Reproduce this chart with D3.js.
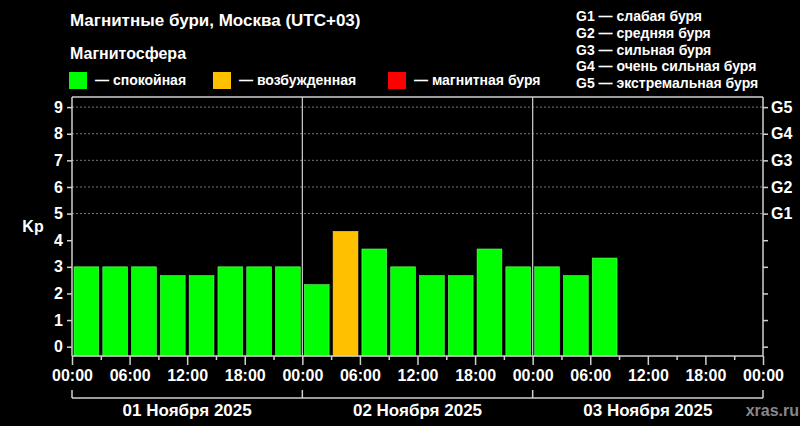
<!DOCTYPE html>
<html>
<head>
<meta charset="utf-8">
<script src="https://cdn.jsdelivr.net/npm/d3@7"></script>
<style>
  html, body { margin: 0; padding: 0; background: #000; }
  svg { display: block; font-family: "Liberation Sans", Arial, sans-serif; font-weight: bold; }
</style>
</head>
<body>
<svg id="chart" width="800" height="426"></svg>
<script>
// Kp index, 3-hour bins starting 01 Nov 00:00
const kpValues = [3, 3, 3, 2.67, 2.67, 3, 3, 3,
                  2.33, 4.33, 3.67, 3, 2.67, 2.67, 3.67, 3,
                  3, 2.67, 3.33];
const dayLabels = ["01 Ноября 2025", "02 Ноября 2025", "03 Ноября 2025"];
const kpTicks = [0, 1, 2, 3, 4, 5, 6, 7, 8, 9];
const stormTicks = ["G1", "G2", "G3", "G4", "G5"];
const stormNames = ["слабая буря", "средняя буря", "сильная буря", "очень сильная буря", "экстремальная буря"];
const stateNames = ["спокойная", "возбужденная", "магнитная буря"];
const stateColors = ["#00ff00", "#ffc000", "#ff0000"];

const svg = d3.select("#chart");
const margin = { top: 97, right: 37, bottom: 70, left: 72 };
const W = 800, H = 426;

const x = d3.scaleLinear().domain([0, 72]).range([margin.left, W - margin.right]);
const y = d3.scaleLinear().domain([-0.35, 9.38]).range([H - margin.bottom, margin.top]);
const bottom = H - margin.bottom;

function colorFor(v) {
  if (v >= 5) return stateColors[2];
  if (v >= 4) return stateColors[1];
  return stateColors[0];
}

// header
svg.append("text").attr("x", 70).attr("y", 26).attr("fill", "#fff")
  .attr("font-size", 17).text("Магнитные бури, Москва (UTC+03)");
svg.append("text").attr("x", 70).attr("y", 59).attr("fill", "#fff")
  .attr("font-size", 16).text("Магнитосфера");

const legendX = [69, 213, 388];
stateNames.forEach((name, i) => {
  svg.append("rect").attr("x", legendX[i]).attr("y", 72).attr("width", 18).attr("height", 17)
    .attr("fill", stateColors[i]);
  svg.append("text").attr("x", legendX[i] + 26).attr("y", 85).attr("fill", "#fff")
    .attr("font-size", 14).text("— " + name);
});

stormTicks.forEach((g, i) => {
  svg.append("text").attr("x", 576).attr("y", 21 + i * 16.8).attr("fill", "#fff")
    .attr("font-size", 14).text(g + " — " + stormNames[i]);
});

// grid
svg.append("g").selectAll("line").data(kpTicks.filter(d => d >= 5)).join("line")
  .attr("x1", x(0)).attr("x2", x(72)).attr("y1", d => y(d)).attr("y2", d => y(d))
  .attr("stroke", "#777").attr("stroke-width", 1).attr("stroke-dasharray", "2,2");

// bars
svg.append("g").selectAll("rect").data(kpValues).join("rect")
  .attr("x", (d, i) => x(i * 3) + 2)
  .attr("width", (d, i) => x(i * 3 + 3) - x(i * 3) - 4)
  .attr("y", d => y(d))
  .attr("height", d => bottom - y(d))
  .attr("fill", d => colorFor(d))
  .attr("stroke", d => d >= 4 ? "#ffd866" : "#66ff66")
  .attr("stroke-width", 0.6);

// frame and day separators
const axisColor = "#d0d0d0";
svg.append("line").attr("x1", x(0)).attr("x2", x(72)).attr("y1", margin.top).attr("y2", margin.top)
  .attr("stroke", axisColor).attr("stroke-width", 1.5);
svg.append("g").selectAll("line").data([24, 48]).join("line")
  .attr("x1", d => x(d)).attr("x2", d => x(d)).attr("y1", margin.top).attr("y2", bottom)
  .attr("stroke", axisColor).attr("stroke-width", 1.2);

// left axis
const yLeft = svg.append("g").attr("transform", `translate(${x(0)},0)`)
  .call(d3.axisLeft(y).tickValues(kpTicks).tickSize(5).tickPadding(4).tickFormat(d3.format("d")));
// right axis
const yRight = svg.append("g").attr("transform", `translate(${x(72)},0)`)
  .call(d3.axisRight(y).tickValues(kpTicks).tickSize(5).tickPadding(3)
    .tickFormat(d => d >= 5 ? stormTicks[d - 5] : ""));
[yLeft, yRight].forEach(g => {
  g.select(".domain").attr("d", `M0,${margin.top}V${bottom}`).attr("stroke", axisColor).attr("stroke-width", 1.5);
  g.selectAll(".tick line").attr("stroke", axisColor).attr("stroke-width", 1.5);
  g.selectAll(".tick text").attr("fill", "#fff").attr("font-size", 16)
    .attr("font-family", "Liberation Sans, Arial, sans-serif").attr("font-weight", "bold");
});

svg.append("text").attr("x", 33).attr("y", y(4.5)).attr("dy", "0.35em").attr("text-anchor", "middle")
  .attr("fill", "#fff").attr("font-size", 16).text("Kp");

// bottom axis
const hourTicks = d3.range(0, 73, 3);
const xAxis = svg.append("g").attr("transform", `translate(0,${bottom})`)
  .call(d3.axisBottom(x).tickValues(hourTicks).tickSize(0).tickPadding(14)
    .tickFormat(d => d % 6 === 0 ? d3.format("02d")(d % 24) + ":00" : ""));
xAxis.select(".domain").attr("d", `M${x(0)},0H${x(72)}`).attr("stroke", axisColor).attr("stroke-width", 1.5);
xAxis.selectAll(".tick line").attr("stroke", axisColor).attr("stroke-width", 1.5)
  .attr("y2", d => d % 6 === 0 ? 9 : 4);
xAxis.selectAll(".tick text").attr("fill", "#fff").attr("font-size", 16)
  .attr("font-family", "Liberation Sans, Arial, sans-serif").attr("font-weight", "bold");

// day bracket
const bracketY = 398;
svg.append("line").attr("x1", x(0)).attr("x2", x(72)).attr("y1", bracketY).attr("y2", bracketY)
  .attr("stroke", axisColor).attr("stroke-width", 1.5);
svg.append("g").selectAll("line").data([0, 24, 48, 72]).join("line")
  .attr("x1", d => x(d)).attr("x2", d => x(d)).attr("y1", bracketY - 8).attr("y2", bracketY)
  .attr("stroke", axisColor).attr("stroke-width", 1.5);
svg.append("g").selectAll("text").data(dayLabels).join("text")
  .attr("x", (d, i) => x(i * 24 + 12)).attr("y", 416).attr("text-anchor", "middle")
  .attr("fill", "#fff").attr("font-size", 17).text(d => d);

svg.append("text").attr("x", 799).attr("y", 416).attr("text-anchor", "end")
  .attr("fill", "#888").attr("font-size", 16).text("xras.ru");
</script>
</body>
</html>
